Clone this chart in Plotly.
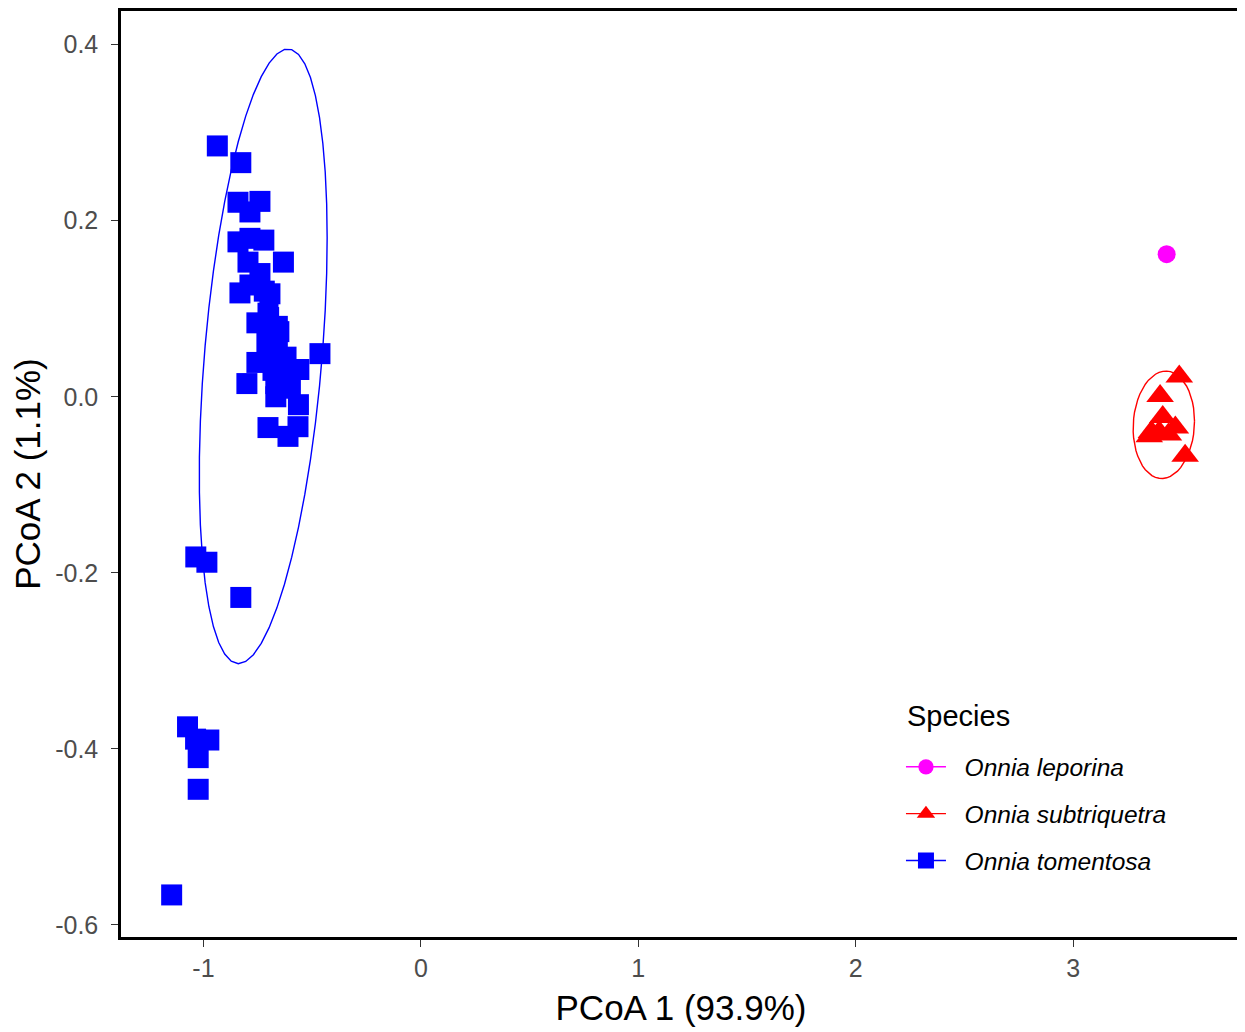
import numpy as np
import plotly.graph_objects as go

# ---------------- data ----------------
species = ["Onnia leporina", "Onnia subtriquetra", "Onnia tomentosa"]
colors = ["#FF00FF", "#FF0000", "#0000FF"]
symbols = ["circle", "triangle-up", "square"]
marker_sizes = [18, 24, 21]

leporina_x = [3.430]
leporina_y = [0.162]

# includes points hidden underneath the overlapping central triangles
subtriquetra_x = [3.488, 3.400, 3.412, 3.350, 3.438, 3.396, 3.515, 3.360, 3.470]
subtriquetra_y = [0.023, 0.001, -0.023, -0.045, -0.043, -0.040, -0.067, -0.040, -0.035]

# includes points hidden underneath the dense overlapping block of squares
tomentosa_x = [-0.936, -0.828, -0.841, -0.740, -0.786, -0.841, -0.786, -0.722,
               -0.795, -0.632, -0.832, -0.786, -0.694, -0.754, -0.653, -0.703,
               -0.464, -0.754, -0.708, -0.561, -0.800, -0.667, -0.667, -0.563,
               -0.703, -0.611, -0.565, -0.620, -0.600,
               -0.700, -0.660, -0.640, -0.680, -0.640, -0.720, -0.660, -0.620,
               -0.700, -0.740,
               -1.035, -0.984, -0.828, -1.073, -0.975, -1.036, -1.024, -1.024,
               -1.146]
tomentosa_y = [0.285, 0.266, 0.221, 0.222, 0.210, 0.176, 0.180, 0.178,
               0.153, 0.153, 0.118, 0.127, 0.117, 0.084, 0.074, 0.095,
               0.049, 0.039, 0.061, 0.031, 0.015, 0.015, 0.000, -0.009,
               -0.035, -0.045, -0.034, 0.045, 0.010,
               0.090, 0.060, 0.040, 0.030, 0.010, 0.120, 0.080, 0.020,
               0.050, 0.140,
               -0.182, -0.188, -0.228, -0.375, -0.390, -0.389, -0.410, -0.446,
               -0.566]

x_tickvals = [-1, 0, 1, 2, 3]
x_ticktext = ["-1", "0", "1", "2", "3"]
y_tickvals = [0.4, 0.2, 0.0, -0.2, -0.4, -0.6]
y_ticktext = ["0.4", "0.2", "0.0", "-0.2", "-0.4", "-0.6"]

x_title = "PCoA 1 (93.9%)"
y_title = "PCoA 2 (1.1%)"
legend_title = "Species"

series_x = [leporina_x, subtriquetra_x, tomentosa_x]
series_y = [leporina_y, subtriquetra_y, tomentosa_y]


# ------------- stat_ellipse(type = "t", level = 0.95) -------------
def cov_trob(X, nu=5, maxit=25, tol=0.01):
    n, p = X.shape
    wt = np.ones(n)
    loc = X.mean(axis=0)
    w = np.sqrt(wt)
    Xc = X - loc
    for _ in range(maxit):
        w0 = w
        Xc = X - loc
        A = np.sqrt(w / w.sum())[:, None] * Xc
        _, d, Vt = np.linalg.svd(A, full_matrices=False)
        wX = Xc @ Vt.T @ np.diag(1.0 / d)
        Q = (wX ** 2).sum(axis=1)
        w = (wt * (nu + p)) / (nu + Q)
        loc = (w[:, None] * X).sum(axis=0) / w.sum()
        if np.all(np.abs(w - w0) < tol):
            break
    sw = np.sqrt(w)[:, None] * Xc
    cov = sw.T @ sw / wt.sum()
    return loc, cov


def stat_ellipse(x, y, level=0.95, segments=51):
    X = np.column_stack([x, y]).astype(float)
    n = X.shape[0]
    if n < 3:
        return None, None
    dfn, dfd = 2, n - 1
    center, shape = cov_trob(X)
    R = np.linalg.cholesky(shape).T  # upper triangular like R's chol()
    fq = dfd / 2.0 * ((1 - level) ** (-2.0 / dfd) - 1)  # qf(level, 2, dfd)
    radius = np.sqrt(dfn * fq)
    ang = np.arange(segments + 1) * 2 * np.pi / segments
    circ = np.column_stack([np.cos(ang), np.sin(ang)])
    ell = center + radius * (circ @ R)
    return ell[:, 0], ell[:, 1]


fig = go.Figure()

for name, col, sym, ms, xs, ys in zip(species, colors, symbols, marker_sizes, series_x, series_y):
    ex, ey = stat_ellipse(xs, ys)
    if ex is not None:
        fig.add_trace(go.Scatter(x=ex, y=ey, mode="lines", line=dict(color=col, width=1.4),
                                 showlegend=False, hoverinfo="skip"))
    fig.add_trace(go.Scatter(x=xs, y=ys, mode="markers", showlegend=False, name=name,
                             marker=dict(symbol=sym, size=ms, color=col, line=dict(width=0))))

# legend entries (point + ellipse line key)
for i, (name, col, sym, ms) in enumerate(zip(species, colors, symbols, marker_sizes)):
    fig.add_trace(go.Scatter(x=[None], y=[None], mode="lines+markers",
                             name="\u00a0\u00a0<i>" + name + "</i>",
                             legendgroup="g%d" % i,
                             line=dict(color=col, width=1.4),
                             marker=dict(symbol=sym, size=ms * 0.85, color=col, line=dict(width=0))))

axis_common = dict(
    showgrid=False, zeroline=False,
    showline=True, linecolor="black", linewidth=2.5, mirror=True,
    ticks="outside", ticklen=7, tickwidth=1.2, tickcolor="#333333",
    tickfont=dict(family="Liberation Sans, Arial", size=25, color="#4D4D4D"),
)

fig.update_layout(
    width=1237, height=1024,
    margin=dict(l=113, r=4, t=0, b=95),
    plot_bgcolor="white", paper_bgcolor="white",
    font=dict(family="Liberation Sans, Arial", color="black"),
    xaxis=dict(range=[-1.379, 3.772], tickvals=x_tickvals, ticktext=x_ticktext,
               title=dict(text=x_title, font=dict(size=35, color="black"), standoff=15),
               **axis_common),
    yaxis=dict(range=[-0.6138, 0.4383], tickvals=y_tickvals, ticktext=y_ticktext,
               ticklabelstandoff=8,
               title=dict(text=y_title, font=dict(size=35, color="black"), standoff=5),
               **axis_common),
    legend=dict(
        x=0.6964, y=0.208, xanchor="left", yanchor="top",
        bgcolor="rgba(0,0,0,0)", borderwidth=0,
        font=dict(size=24.5, color="black"),
        tracegroupgap=12, itemwidth=40,
    ),
    annotations=[dict(text=legend_title, x=0.70, y=0.239, xref="paper", yref="paper",
                      xanchor="left", yanchor="middle", showarrow=False,
                      font=dict(size=29, color="black"))],
)

fig.write_html("out.html")
